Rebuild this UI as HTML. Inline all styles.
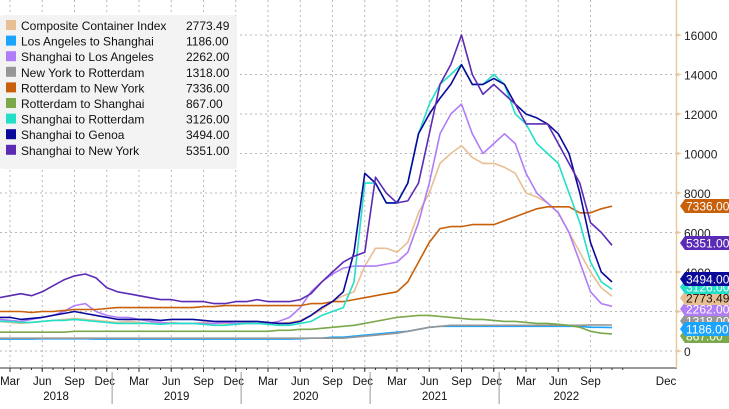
<!DOCTYPE html>
<html><head><meta charset="utf-8"><style>
body{margin:0;background:#fff;font-family:"Liberation Sans",sans-serif;}
svg text{font-family:"Liberation Sans",sans-serif;}
</style></head><body>
<svg id="chart" width="729" height="404" xmlns="http://www.w3.org/2000/svg">
<g id="grid"></g>
<g id="lines"></g>
<g id="axes"></g>
<g id="legend"></g>
<g id="tags"></g>
</svg>
<script>
const yTicks=[0,2000,4000,6000,8000,10000,12000,14000,16000];
const monthLabels=["Mar","Jun","Sep","Dec"];
const years=["2018","2019","2020","2021","2022"];
const seriesNames=["Composite Container Index","Los Angeles to Shanghai","Shanghai to Los Angeles","New York to Rotterdam","Rotterdam to New York","Rotterdam to Shanghai","Shanghai to Rotterdam","Shanghai to Genoa","Shanghai to New York"];
const seriesColors=["#e8bf94","#1aa3ff","#b07cf7","#969696","#c8600a","#7aa84a","#22e0c8","#0a0a9a","#5c2bb5"];
const lastValues=[2773.49,1186.00,2262.00,1318.00,7336.00,867.00,3126.00,3494.00,5351.00];
// monthly values from Feb 2018 (index 0) to Nov 2022
const composite=[1500,1450,1400,1450,1500,1550,1600,1650,1600,1550,1500,1450,1500,1450,1400,1400,1450,1400,1400,1450,1400,1400,1400,1450,1400,1400,1400,1450,1550,1800,2100,2500,2800,3000,4300,5200,5200,5000,5500,7000,8000,9500,10000,10400,9800,9500,9500,9300,9000,8000,7800,7500,7000,6000,5000,4000,3200,2773];
const laSh=[600,600,600,600,620,620,620,620,620,600,600,600,600,600,600,600,600,600,600,600,600,600,600,600,600,600,600,600,620,650,650,700,700,750,800,850,900,950,1000,1100,1200,1250,1250,1250,1250,1250,1250,1250,1250,1250,1250,1250,1250,1250,1250,1200,1200,1186];
const shLa=[1600,1550,1500,1600,1700,1800,2000,2300,2400,2000,1800,1700,1700,1600,1500,1450,1400,1400,1400,1400,1400,1450,1400,1400,1400,1400,1500,1700,2200,3000,3500,3900,4200,4300,4300,4300,4400,4500,5000,6500,8500,11000,12000,12500,11000,10000,10500,11000,10500,9000,8000,7500,7000,6000,4500,3000,2400,2262];
const nyRot=[650,650,650,650,650,650,650,650,650,650,650,650,650,650,650,650,650,650,650,650,650,650,650,650,650,650,650,650,650,650,650,650,650,700,750,800,850,900,1000,1100,1200,1250,1300,1300,1300,1300,1300,1300,1300,1300,1300,1300,1300,1300,1300,1320,1320,1318];
const rotNy=[2000,2000,2000,1950,2000,2000,2050,2100,2100,2100,2150,2200,2200,2200,2200,2200,2200,2200,2200,2250,2250,2300,2300,2300,2300,2300,2300,2300,2300,2400,2400,2500,2500,2600,2700,2800,2900,3000,3500,4500,5500,6200,6300,6300,6400,6400,6400,6600,6800,7000,7200,7300,7300,7300,7000,7000,7200,7336];
const rotSh=[950,950,950,950,950,950,950,1000,1000,1000,1000,1000,1000,1000,1000,1000,1000,1000,1000,1000,1000,1000,1000,1000,1000,1000,1050,1050,1100,1100,1150,1200,1250,1300,1400,1500,1600,1700,1750,1800,1800,1750,1700,1650,1600,1600,1550,1500,1500,1450,1400,1400,1350,1300,1200,1000,900,867];
const shRot=[1500,1500,1450,1450,1500,1550,1550,1600,1550,1500,1450,1400,1400,1400,1400,1350,1400,1400,1400,1350,1300,1300,1350,1400,1400,1350,1300,1300,1400,1500,1800,2000,2200,3500,8500,8500,7500,7500,8500,11000,12500,13500,14000,14500,13500,13500,14000,13500,12000,11500,10500,10000,9500,8000,6500,4500,3500,3126];
const shGe=[1700,1700,1600,1650,1700,1800,1900,2000,1900,1800,1700,1600,1600,1600,1600,1550,1600,1600,1600,1550,1500,1500,1500,1500,1500,1450,1400,1400,1500,1800,2200,2500,3000,5000,9000,8500,7500,7500,8500,11000,12000,12800,13500,14500,13500,13500,13800,13500,12500,12000,11800,11500,11000,10000,8000,5500,4000,3494];
const shNy=[2700,2800,2900,2800,3000,3300,3600,3800,3900,3700,3200,3000,2900,2800,2700,2600,2600,2500,2500,2500,2400,2400,2500,2500,2600,2500,2500,2500,2600,2900,3500,4000,4500,4800,5000,8800,8000,7500,7600,8500,11000,13500,14500,16000,14000,13000,13500,13000,12500,11500,11500,11500,10500,9500,8500,6500,6000,5351];
const series=[composite,laSh,shLa,nyRot,rotNy,rotSh,shRot,shGe,shNy];
const ns="http://www.w3.org/2000/svg";
function X(m){return 10+(m-2)*10.75;}
function Y(v){return 351-v/2000*39.5;}
function mk(tag,attrs,parent){const e=document.createElementNS(ns,tag);for(const k in attrs)e.setAttribute(k,attrs[k]);parent.appendChild(e);return e;}
const grid=document.getElementById('grid'),axes=document.getElementById('axes'),lines=document.getElementById('lines'),legend=document.getElementById('legend'),tags=document.getElementById('tags');
yTicks.forEach(v=>{
  const l=mk('line',{x1:0,x2:676,y1:Y(v),y2:Y(v),stroke:'#b8b8b8','stroke-dasharray':'2,3','stroke-width':1},grid);
  
  
  const t=mk('text',{x:684,y:Y(v)+5,'font-size':12,fill:'#222'},axes);t.textContent=v;
  
  
  mk('path',{d:`M676 ${Y(v)-2}L682 ${Y(v)}L676 ${Y(v)+2}Z`,fill:'#e8c9a0'},axes);
});
for(let q=0;q<19;q++){
  const m=2+q*3,x=X(m);
  const l=mk('line',{x1:x,x2:x,y1:0,y2:368,stroke:'#b8b8b8','stroke-dasharray':'2,3'},grid);
  
  
  mk('line',{x1:x,x2:x,y1:368,y2:372,stroke:'#333'},axes);
  const t=mk('text',{x:x+(q%4==3?-2:0),y:385,'font-size':11.5,fill:'#111','text-anchor':'middle'},axes);t.textContent=monthLabels[q%4];
  
  
}
for(let m=0;m<60;m++){mk('line',{x1:X(m),x2:X(m),y1:368,y2:370,stroke:'#333'},axes);}
const td=mk('text',{x:666,y:385,'font-size':11.5,fill:'#111','text-anchor':'middle'},axes);td.textContent='Dec';


mk('line',{x1:0,x2:677,y1:368,y2:368,stroke:'#333'},axes);
mk('line',{x1:676.5,x2:676.5,y1:0,y2:368,stroke:'#e8c9a0','stroke-width':1.5},axes);
years.forEach((yr,i)=>{
  const s=X(i*12-0.5),e=X(i*12+11.5);
  const t=mk('text',{x:(Math.max(s,0)+(i==4?X(60):e))/2,y:400,'font-size':11.5,fill:'#111','text-anchor':'middle'},axes);t.textContent=yr;
  
  
  if(i>0)mk('line',{x1:s,x2:s,y1:372,y2:404,stroke:'#999'},axes);
});
series.forEach((arr,si)=>{
  const pts=arr.map((v,i)=>X(i+1).toFixed(1)+','+Y(v).toFixed(1)).join(' ');
  const p=mk('polyline',{points:pts,fill:'none',stroke:seriesColors[si],'stroke-width':1.6,'stroke-linejoin':'round'},lines);
  
  
});
mk('rect',{x:0,y:15,width:237,height:154,rx:3,fill:'#f3f3f3'},legend);
seriesNames.forEach((n,i)=>{
  const y=30+i*15.6;
  const g=mk('g',{},legend);
  
  
  mk('rect',{x:6,y:y-10,width:10,height:10,fill:seriesColors[i]},g);
  const t=mk('text',{x:21,y:y,'font-size':12,fill:'#111'},g);t.textContent=n;
  const v=mk('text',{x:186,y:y,'font-size':12,fill:'#111'},g);v.textContent=lastValues[i].toFixed(2);
});
const tagY=[298,329,309,321,206,336,287,279,243];
const tagOrder=[5,3,1,2,0,6,7,8,4];
tagOrder.forEach(i=>{
  const y=tagY[i];
  const g=mk('g',{},tags);
  
  
  mk('path',{d:`M680 ${y}L685 ${y-7}L729 ${y-7}L729 ${y+7}L685 ${y+7}Z`,fill:seriesColors[i]},g);
  const t=mk('text',{x:686,y:y+4.5,'font-size':12,fill:(i==0?'#111':'#fff')},g);t.textContent=lastValues[i].toFixed(2);
});
</script>
</body></html>
